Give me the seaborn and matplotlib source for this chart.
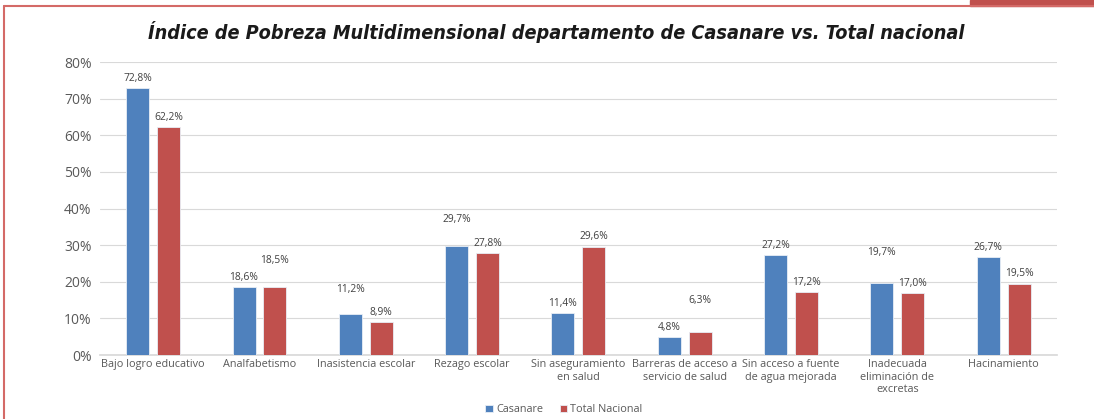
import matplotlib
matplotlib.use("Agg")
import matplotlib.pyplot as plt
from matplotlib.lines import Line2D
from matplotlib.patches import Rectangle
import pandas as pd
import seaborn as sns

categories = [
    "Bajo logro educativo",
    "Analfabetismo",
    "Inasistencia escolar",
    "Rezago escolar",
    "Sin aseguramiento\nen salud",
    "Barreras de acceso a\nservicio de salud",
    "Sin acceso a fuente\nde agua mejorada",
    "Inadecuada\neliminación de\nexcretas",
    "Hacinamiento",
]
casanare = [72.8, 18.6, 11.2, 29.7, 11.4, 4.8, 27.2, 19.7, 26.7]
nacional = [62.2, 18.5, 8.9, 27.8, 29.6, 6.3, 17.2, 17.0, 19.5]
series = ["Casanare", "Total Nacional"]
yticks = [0, 10, 20, 30, 40, 50, 60, 70, 80]

# label offsets above bar tops (points), as the original chart placed them
off_casanare = [3, 3, 14, 15, 3, 3, 3, 18, 3]
off_nacional = [3, 15, 3, 3, 3, 19, 3, 3, 3]

df = pd.DataFrame({
    "cat": categories * 2,
    "serie": [series[0]] * len(categories) + [series[1]] * len(categories),
    "valor": casanare + nacional,
})

sns.set_theme(style="white")
plt.rcParams["font.family"] = ["Open Sans", "DejaVu Sans"]

fig = plt.figure(figsize=(10.94, 4.19), dpi=100)
ax = fig.add_axes([0.0914, 0.1527, 0.8746, 0.6993])

palette = {"Casanare": "#4F81BD", "Total Nacional": "#C0504D"}
sns.barplot(data=df, x="cat", y="valor", hue="serie", order=categories,
            hue_order=series, palette=palette, saturation=1, width=0.58, gap=0.255,
            edgecolor="#e8eef6", linewidth=0.6, ax=ax, legend=True, zorder=3)

ax.set_xlim(-0.5, len(categories) - 0.5)
ax.set_ylim(0, 80)
ax.set_yticks(yticks)
ax.set_yticklabels([f"{t}%" for t in yticks], fontsize=10, color="#595959")
ax.tick_params(axis="x", labelsize=7.8, colors="#595959", length=0, pad=3)
ax.tick_params(axis="y", length=0, pad=6)
ax.set_xlabel("")
ax.set_ylabel("")
ax.grid(axis="y", color="#D9D9D9", linewidth=0.8, zorder=0)
for s in ["left", "right", "top"]:
    ax.spines[s].set_visible(False)
ax.spines["bottom"].set_color("#D9D9D9")

for cont, offs in zip(ax.containers, [off_casanare, off_nacional]):
    for bar, off in zip(cont, offs):
        v = bar.get_height()
        ax.annotate(f"{v:.1f}%".replace(".", ","),
                    (bar.get_x() + bar.get_width() / 2, v),
                    xytext=(0, off), textcoords="offset points",
                    ha="center", va="bottom", fontsize=7.4, color="#404040")

leg = ax.legend(loc="upper center", bbox_to_anchor=(0.485, -0.135), ncol=2,
                frameon=False, fontsize=7.8, handlelength=0.7, handleheight=0.7,
                handletextpad=0.3, columnspacing=1.5)
for t in leg.get_texts():
    t.set_color("#595959")

fig.text(0.508, 0.923, "Índice de Pobreza Multidimensional departamento de Casanare vs. Total nacional",
         ha="center", va="center", fontsize=14.2, fontweight="bold", fontstyle="italic",
         fontstretch="condensed", family=["DejaVu Sans"], color="#1a1a1a")

# frame lines and the corner tab
fig.add_artist(Line2D([0.004, 1.0], [0.9857, 0.9857], color="#D46A67", linewidth=1.5))
fig.add_artist(Line2D([0.004, 0.004], [0.0, 0.9857], color="#D46A67", linewidth=1.5))
fig.add_artist(Rectangle((0.887, 0.9857), 0.113, 0.0143, color="#C0504D",
                         transform=fig.transFigure))

fig.savefig("out.png", dpi=100)
